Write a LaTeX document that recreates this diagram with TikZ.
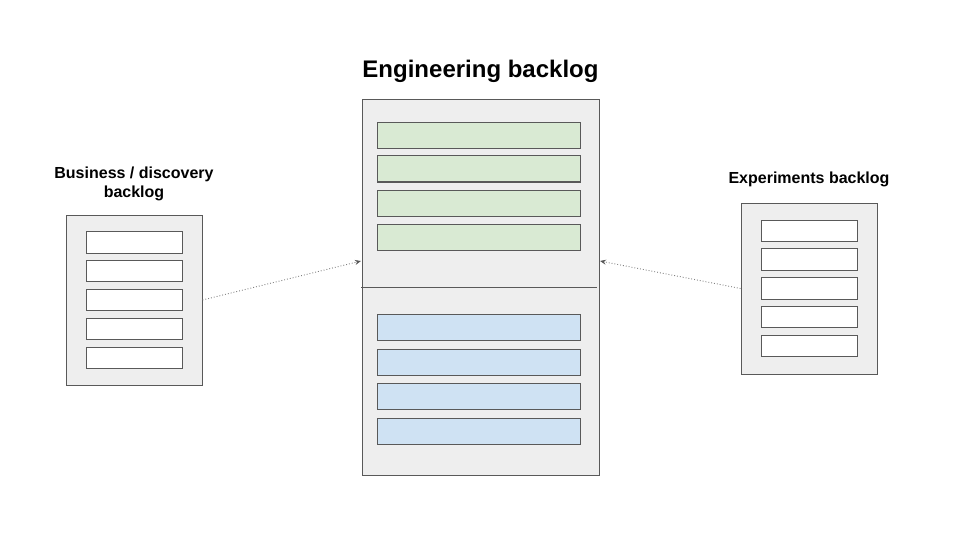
\documentclass[tikz,border=0pt]{standalone}
\usepackage{fontspec}
\setmainfont{Liberation Sans}
\usetikzlibrary{arrows.meta}
\definecolor{boxfill}{HTML}{EEEEEE}
\definecolor{boxline}{HTML}{595959}
\definecolor{greenfill}{HTML}{D9EAD3}
\definecolor{bluefill}{HTML}{CFE2F3}
\tikzset{
  backlog/.style={draw=boxline, fill=boxfill, line width=1pt, inner sep=0pt, rectangle},
  item/.style={draw=boxline, line width=1pt, inner sep=0pt, rectangle},
  bigitem/.style={item, minimum width=203pt, minimum height=26pt},
  smallitem/.style={item, fill=white, minimum width=96pt, minimum height=21.5pt},
  bigtitle/.style={font=\fontsize{24}{28}\selectfont\bfseries, inner sep=0pt},
  subtitle/.style={font=\fontsize{16}{19}\selectfont\bfseries, align=center, inner sep=0pt},
  link/.style={draw=gray, dotted, line width=0.9pt, -{Stealth[length=6pt,width=5pt,color=boxline]}},
  divider/.style={draw=boxline, line width=1pt}
}
\begin{document}
\begin{tikzpicture}[x=1pt,y=-1pt]
\useasboundingbox (0,0) rectangle (960,540);
% titles
\node[bigtitle] (t1) at (480.5,71) {Engineering backlog};
\node[subtitle] (t2) at (134,184) {Business / discovery\\backlog};
\node[subtitle] (t3) at (809,179.5) {Experiments backlog};
% main box
\node[backlog, minimum width=237pt, minimum height=375pt] (main) at (480.5,287.5) {};
\foreach \y [count=\i] in {136,169,203,237}
  \node[bigitem, fill=greenfill] (g\i) at (478.5,\y) {};
\foreach \y [count=\i] in {327,362,396,431}
  \node[bigitem, fill=bluefill] (b\i) at (478.5,\y) {};
\coordinate (dl) at (361,287);
\coordinate (dr) at (597,287);
\draw[divider] (dl) -- (dr);
% left box
\node[backlog, minimum width=136pt, minimum height=170pt] (left) at (134,300) {};
\foreach \y [count=\i] in {242.5,271,300,329,358}
  \node[smallitem] (l\i) at (134,\y) {};
% right box
\node[backlog, minimum width=136pt, minimum height=171pt] (right) at (809,288.5) {};
\foreach \y [count=\i] in {231,259.5,288.5,317,346}
  \node[smallitem] (r\i) at (809,\y) {};
% arrows
\coordinate (inl) at (361,261);
\coordinate (inr) at (600,261);
\draw[link] (left.east) -- (inl);
\draw[link] (right.west) -- (inr);
\end{tikzpicture}
\end{document}
